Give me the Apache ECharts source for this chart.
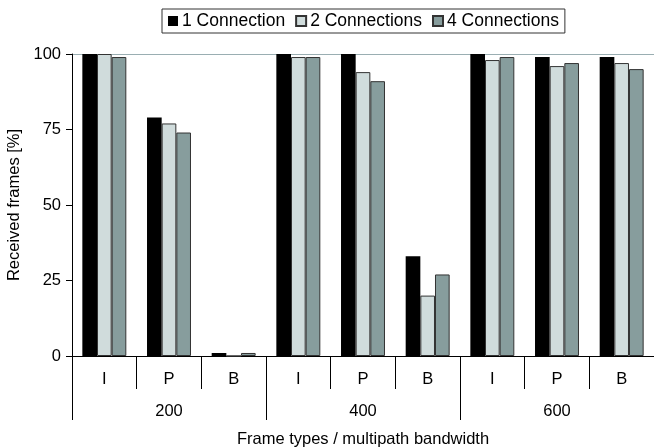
<!DOCTYPE html>
<html><head><meta charset="utf-8">
<script src="https://cdn.jsdelivr.net/npm/echarts@6/dist/echarts.min.js"></script>
<style>html,body{margin:0;padding:0;background:#fff}#c{width:654px;height:447px}</style>
</head><body><div id="c"></div>
<script>
const frameTypes = ['I','P','B','I','P','B','I','P','B'];
const bandwidths = ['200','400','600'];
const seriesNames = ['1 Connection','2 Connections','4 Connections'];
const oneConn   = [100, 79, 1, 100, 100, 33, 100, 99, 99];
const twoConn   = [100, 77, 0, 99, 94, 20, 98, 96, 97];
const fourConn  = [99, 74, 1, 99, 91, 27, 99, 97, 95];
const yTicks = [0, 25, 50, 75, 100];

const font = 'Liberation Sans, Arial, sans-serif';
const colors = ['#000000', '#d0dcdc', '#879d9d'];
const values = [oneConn, twoConn, fourConn];

const chart = echarts.init(document.getElementById('c'));
chart.setOption({
  animation: false,
  grid: {left: 72, right: 0, top: 54, bottom: 91, outerBoundsMode: 'none', containLabel: false},
  legend: {
    top: 9, left: 162,
    data: seriesNames,
    itemWidth: 10, itemHeight: 10, itemGap: 10,
    borderColor: '#333', borderWidth: 1, padding: [3, 6, 3, 6],
    textStyle: {fontFamily: font, fontSize: 17.5, color: '#000', padding: [0,0,0,-1]},
    icon: 'rect'
  },
  xAxis: [{
    type: 'category', data: frameTypes, position: 'bottom',
    axisLine: {show: true, lineStyle: {color: '#000', width: 1}},
    axisTick: {show: true, length: 33, interval: 0, lineStyle: {color: '#000'}},
    axisLabel: {margin: 15, fontFamily: font, fontSize: 16.5, color: '#000', interval: 0},
    name: 'Frame types / multipath bandwidth', nameLocation: 'middle', nameGap: 75,
    nameTextStyle: {fontFamily: font, fontSize: 16.5, color: '#000'}
  }, {
    type: 'category', data: bandwidths, position: 'bottom',
    axisLine: {show: false},
    axisTick: {show: true, length: 64, interval: 0, lineStyle: {color: '#000'}},
    axisLabel: {margin: 47, fontFamily: font, fontSize: 16.5, color: '#000', interval: 0}
  }],
  yAxis: {
    type: 'value', min: yTicks[0], max: yTicks[yTicks.length-1], interval: 25,
    axisLine: {show: true, lineStyle: {color: '#000'}},
    axisTick: {show: true, length: 6, lineStyle: {color: '#000'}},
    axisLabel: {margin: 11, fontFamily: font, fontSize: 16.5, color: '#000'},
    splitLine: {show: true, lineStyle: {color: ['rgba(0,0,0,0)','rgba(0,0,0,0)','rgba(0,0,0,0)','rgba(0,0,0,0)','#9aaeb2'], width: 1}},
    name: 'Received frames [%]', nameLocation: 'middle', nameGap: 43,
    nameTextStyle: {fontFamily: font, fontSize: 16.5, color: '#000'}
  },
  series: seriesNames.map((n, i) => ({
    name: n, type: 'bar', xAxisIndex: 0, data: values[i],
    barGap: '0%', barCategoryGap: '32%',
    itemStyle: {color: colors[i], borderColor: '#333', borderWidth: i === 0 ? 0 : 1}
  }))
});
</script></body></html>
